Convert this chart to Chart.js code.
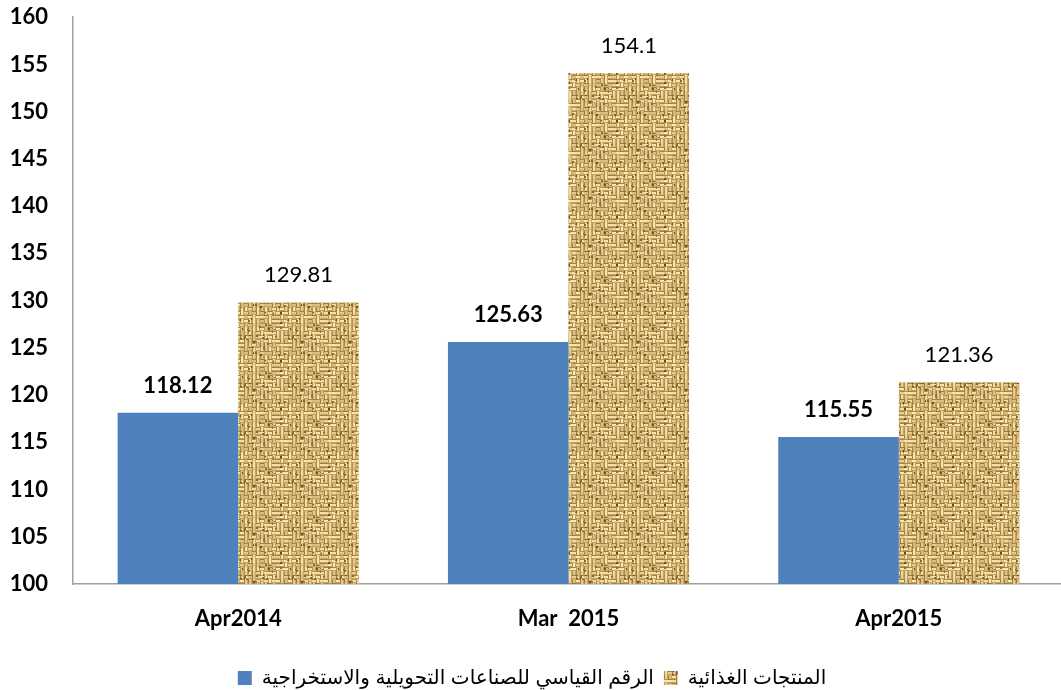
<!DOCTYPE html>
<html>
<head>
<meta charset="utf-8">
<script src="https://cdn.jsdelivr.net/npm/chart.js@4/dist/chart.umd.min.js"></script>
<style>
  body { margin: 0; background: #fff; overflow: hidden; }
  #wrap { width: 1061px; height: 690px; overflow: hidden; position: relative; }
  #myChart { margin-top: -21px; display: block; }
</style>
</head>
<body>
<div id="wrap"><canvas id="myChart" width="1070" height="719"></canvas></div>
<script>
const categories = ['Apr2014', 'Mar  2015', 'Apr2015'];
const seriesNames = ['الرقم القياسي للصناعات التحويلية والاستخراجية', 'المنتجات الغذائية'];
const industryIndex = [118.12, 125.63, 115.55];
const foodProducts = [129.81, 154.1, 121.36];
const yTicks = [100, 105, 110, 115, 120, 125, 130, 135, 140, 145, 150, 155, 160];

// burlap-like woven texture for the second series
function makeBurlap() {
    const size = 48;
    const raw = document.createElement('canvas');
    raw.width = size;
    raw.height = size;
    const t = raw.getContext('2d');
    t.fillStyle = '#c3a262';
    t.fillRect(0, 0, size, size);
    let seed = 11;
    const rnd = () => { seed = (seed * 9301 + 49297) % 233280; return seed / 233280; };
    const lights = ['#f2dfa6', '#e6cd8c', '#dcc07c', '#f5e6b4'];
    const darks = ['#a5844a', '#9a7a40', '#b39256'];
    const n = size / 4;
    for (let i = 0; i < n; i++) {
        for (let j = 0; j < n; j++) {
            const x = i * 4, y = j * 4;
            const horiz = ((i + j) % 2 === 0) !== (rnd() > 0.75);
            t.fillStyle = lights[Math.floor(rnd() * lights.length)];
            const dark = darks[Math.floor(rnd() * darks.length)];
            if (horiz) {
                t.fillRect(x, y + 1, 4, 2);
                t.fillStyle = dark;
                t.fillRect(x, y, 4, 1);
            } else {
                t.fillRect(x + 1, y, 2, 4);
                t.fillStyle = dark;
                t.fillRect(x, y, 1, 4);
            }
        }
    }
    for (let k = 0; k < 45; k++) {
        t.fillStyle = rnd() > 0.5 ? '#6a4d20' : '#86672f';
        t.fillRect(Math.floor(rnd() * size), Math.floor(rnd() * size), 1 + Math.floor(rnd() * 2), 1 + Math.floor(rnd() * 2));
    }
    // soften it a little, tiling 3x3 so the edges wrap
    const tile = document.createElement('canvas');
    tile.width = size;
    tile.height = size;
    const s = tile.getContext('2d');
    s.filter = 'blur(0.6px)';
    for (let a = -1; a <= 1; a++) {
        for (let b = -1; b <= 1; b++) s.drawImage(raw, a * size, b * size);
    }
    return document.getElementById('myChart').getContext('2d').createPattern(tile, 'repeat');
}
const burlap = makeBurlap();

const barLabels = {
    id: 'barLabels',
    afterDatasetsDraw(chart) {
        const {ctx} = chart;
        ctx.save();
        ctx.fillStyle = '#000';
        ctx.textAlign = 'center';
        ctx.textBaseline = 'alphabetic';
        chart.data.datasets.forEach((ds, di) => {
            ctx.font = (di === 0 ? 'bold ' : '') + '22px Lato, "Open Sans", sans-serif';
            chart.getDatasetMeta(di).data.forEach((bar, i) => {
                ctx.fillText(String(ds.data[i]), bar.x, bar.y - 20);
            });
        });
        ctx.restore();
    }
};

const myChart = new Chart(document.getElementById('myChart'), {
    type: 'bar',
    data: {
        labels: categories,
        datasets: [{
            label: seriesNames[0],
            data: industryIndex,
            backgroundColor: '#4f81bd',
            borderWidth: 0
        }, {
            label: seriesNames[1],
            data: foodProducts,
            backgroundColor: burlap,
            borderWidth: 0
        }]
    },
    options: {
        responsive: false,
        animation: false,
        categoryPercentage: 0.73,
        barPercentage: 1,
        layout: {padding: {top: 0, right: 6, left: 0, bottom: 0}},
        plugins: {
            tooltip: {enabled: false},
            legend: {
                position: 'bottom',
                labels: {
                    color: '#000',
                    font: {family: '"Liberation Sans", "DejaVu Sans", sans-serif', size: 20},
                    boxWidth: 14,
                    boxHeight: 14,
                    padding: 10
                }
            }
        },
        scales: {
            x: {
                grid: {display: false, drawTicks: false},
                border: {color: '#a0a0a0', width: 1.5},
                ticks: {
                    color: '#000',
                    padding: 22,
                    font: {family: 'Lato, "Open Sans", sans-serif', size: 22, weight: 'bold'}
                },
                afterFit(s) { s.height = 74; }
            },
            y: {
                min: 100,
                max: 160,
                grid: {display: false, drawTicks: false},
                border: {color: '#a0a0a0', width: 1.5},
                afterBuildTicks(s) { s.ticks = yTicks.map(v => ({value: v})); },
                ticks: {
                    color: '#000',
                    padding: 25,
                    font: {family: 'Lato, "Open Sans", sans-serif', size: 22, weight: 'bold'}
                },
                afterFit(s) { s.width = 73; }
            }
        }
    },
    plugins: [barLabels]
});
</script>
</body>
</html>
